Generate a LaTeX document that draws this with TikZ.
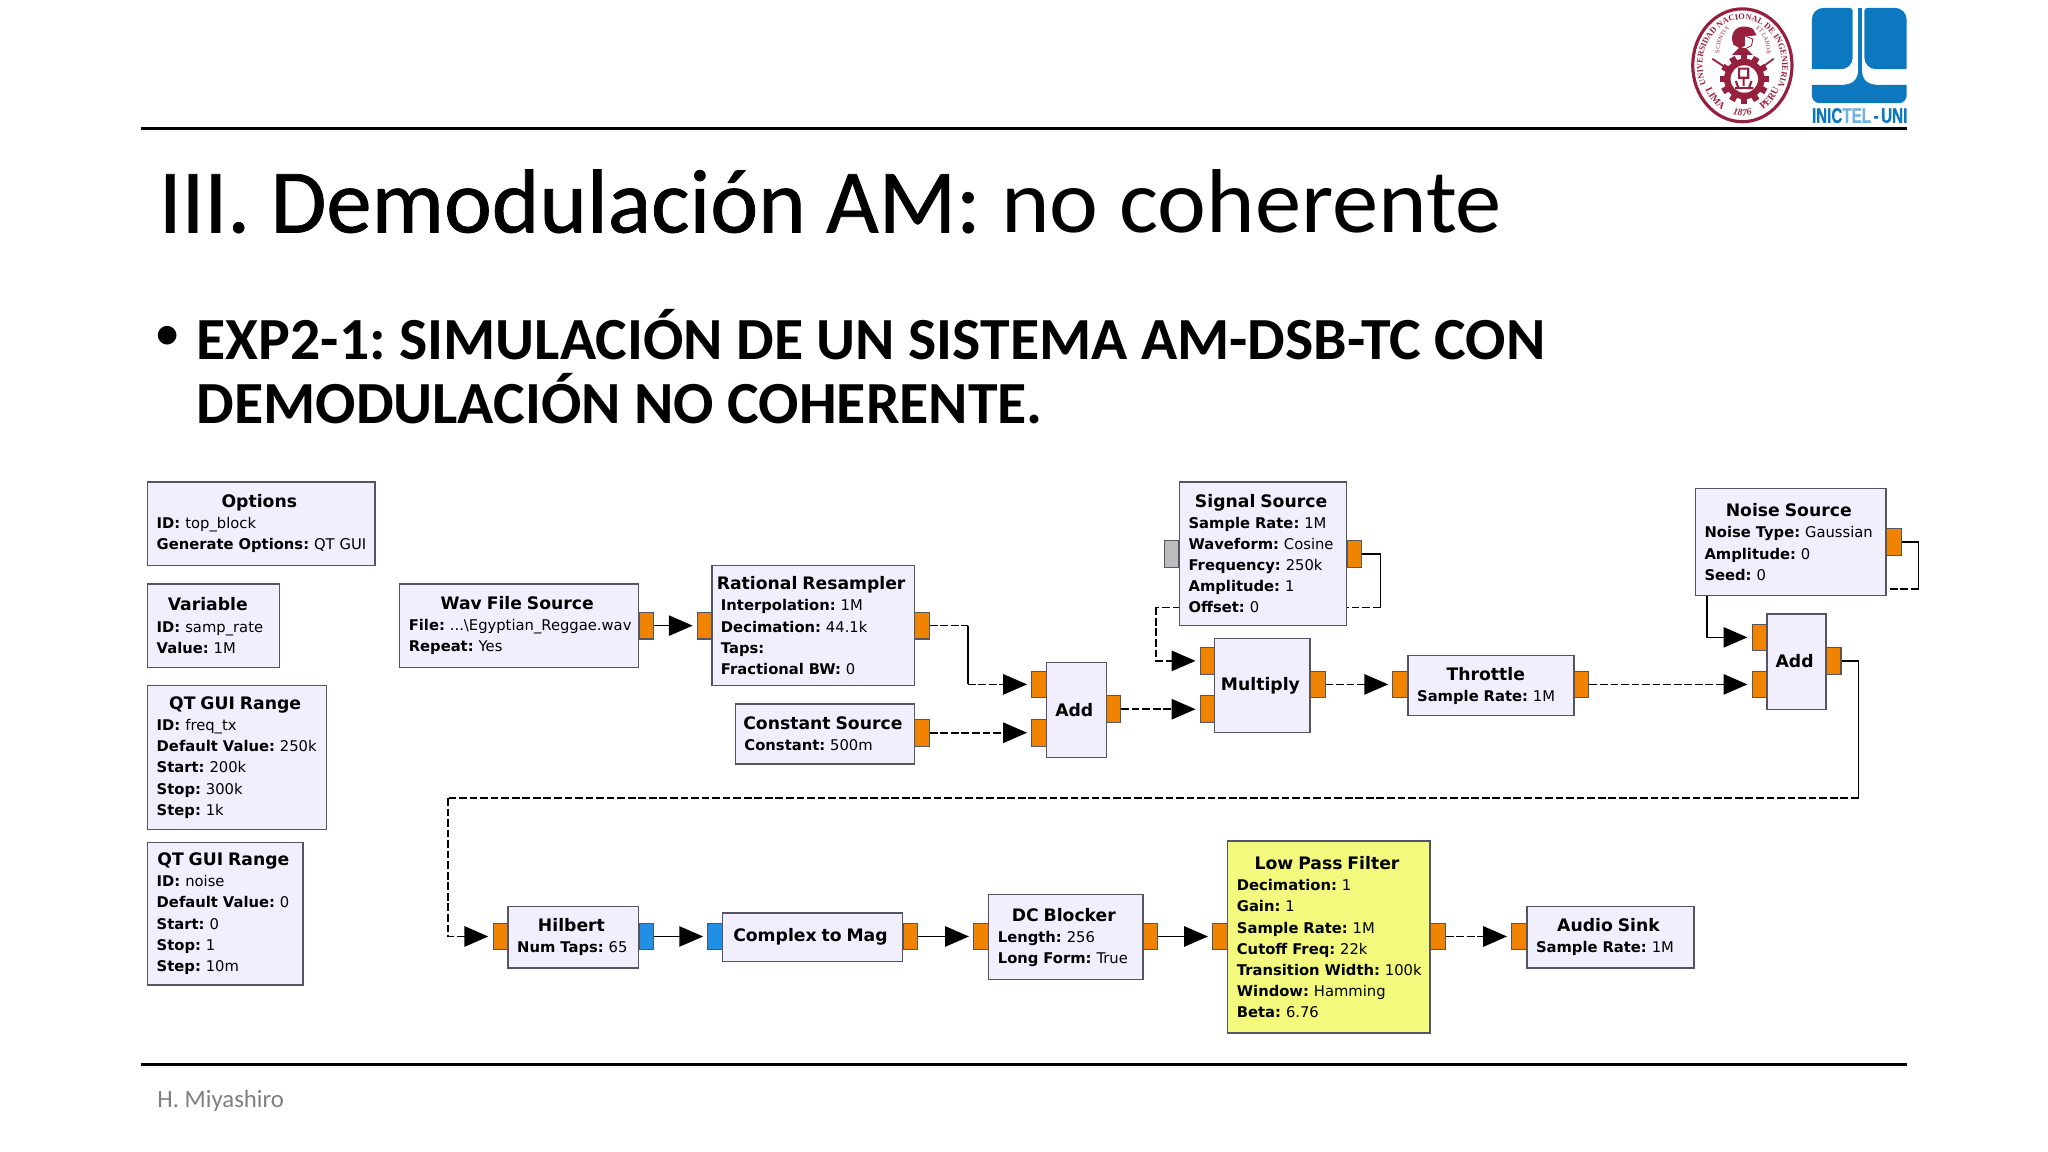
\documentclass[tikz,border=0pt]{standalone}
\usepackage{xcolor}
\usepackage{fontspec}
\usetikzlibrary{arrows.meta,backgrounds,calc,decorations.text}
\setmainfont{Carlito}
\newfontfamily\blockfont{DejaVu Sans}
\newfontfamily\headfont[FakeBold=0.8]{Carlito}
\newfontfamily\logofont[BoldFeatures={FakeBold=1}]{Liberation Sans}
\newfontfamily\sealfont{Liberation Serif}
\definecolor{blockfill}{HTML}{F1EEFD}
\definecolor{blockedge}{HTML}{55555F}
\definecolor{filterfill}{HTML}{F3F97C}
\definecolor{portorange}{HTML}{F08300}
\definecolor{portblue}{HTML}{2090E6}
\definecolor{portgrey}{HTML}{BCBCBC}
\definecolor{unired}{HTML}{96213F}
\definecolor{iniblue}{HTML}{0B78BF}
\definecolor{inilight}{HTML}{6FB3DE}
\definecolor{footgrey}{HTML}{7F7F7F}
\newcommand{\blockhead}[1]{\makebox[\hsize]{\hspace*{-1.1pt}\fontsize{4.9}{6}\selectfont\bfseries #1}\\}
\tikzset{
  blockbox/.style 2 args={draw=blockedge, fill=blockfill, line width=0.4pt, inner xsep=2.6pt, inner ysep=0pt,
    minimum width=#1*0.3716pt, minimum height=#2*0.3716pt, text width=(#1-14)*0.3716pt, align=left,
    font=\blockfont\fontsize{4.2}{6}\selectfont},
  portbox/.style={draw=blockedge, line width=0.3pt, fill=portorange, minimum width=4.1pt, minimum height=7.6pt, inner sep=0pt},
  plainwire/.style={line width=0.45pt},
  wire/.style={plainwire, -{Triangle[length=6.8pt,width=5.8pt]}, shorten >=1.2pt},
  dashwire/.style={wire, dash pattern=on 2.2pt off 0.8pt},
  dashline/.style={plainwire, dash pattern=on 2.2pt off 0.8pt},
  rulebar/.style={line width=0.95pt},
  titletext/.style={anchor=base west, inner sep=0pt, font=\fontsize{25.8}{30}\selectfont},
  bodytext/.style={anchor=west, inner sep=0pt, align=left, font=\fontsize{17}{18.2}\selectfont\bfseries},
}
\frenchspacing
\hyphenpenalty=10000
\begin{document}
\begin{tikzpicture}[x=0.013061cm, y=-0.013061cm]
  \useasboundingbox (0,0) rectangle (1568,882);

  % Slide frame
  \coordinate (topa) at (108,98.5);
  \coordinate (topb) at (1460,98.5);
  \coordinate (bota) at (108,815);
  \coordinate (botb) at (1460,815);
  \draw[rulebar] (topa) -- (topb);
  \draw[rulebar] (bota) -- (botb);
  \node[titletext] (title) at (121,178) {{\headfont III. Demodulación AM:} \scalebox{1.02}[1]{no coherente}};
  \node[anchor=base west, inner sep=0pt, font=\fontsize{15}{18}\selectfont] (bullet) at (118,268) {•};
  \node[bodytext] (body) at (150,281) {EXP2-1: SIMULACIÓN DE UN SISTEMA AM-DSB-TC CON\\DEMODULACIÓN NO COHERENTE.};
  \node[anchor=west, inner sep=0pt, text=footgrey, font=\fontsize{7.05}{8}\selectfont] (author) at (120,843) {H. Miyashiro};

  % Side blocks
  \node[blockbox={174}{64}] (options) at (200,401) {\blockhead{Options}\textbf{ID:} top\_block\\\textbf{Generate~Options:}~QT~GUI};
  \node[blockbox={101}{64}] (variable) at (163.5,479) {\blockhead{Variable\hspace*{2.2pt}}\textbf{ID:} samp\_rate\\\textbf{Value:} 1M};
  \node[blockbox={137}{110}] (freqrange) at (181.5,580) {\blockhead{QT GUI Range}\textbf{ID:} freq\_tx\\\textbf{Default~Value:}~250k\\\textbf{Start:} 200k\\\textbf{Stop:} 300k\\\textbf{Step:} 1k};
  \node[blockbox={119}{109}] (noiserange) at (172.5,699.5) {\blockhead{QT GUI Range}\textbf{ID:} noise\\\textbf{Default Value:} 0\\\textbf{Start:} 0\\\textbf{Stop:} 1\\\textbf{Step:} 10m};

  % Top row
  \node[blockbox={183}{64}] (wav) at (397.5,479) {\blockhead{Wav File Source}\textbf{File:}~...\textbackslash Egyptian\_Reggae.wav\\\textbf{Repeat:} Yes};
  \node[blockbox={155}{92}] (resampler) at (622.5,479) {\blockhead{Rational Resampler}\textbf{Interpolation:} 1M\\\textbf{Decimation:} 44.1k\\\textbf{Taps:}\\\textbf{Fractional BW:} 0};
  \node[blockbox={137}{46}] (constant) at (631.5,562) {\blockhead{Constant Source}\textbf{Constant:} 500m};
  \node[blockbox={46}{73}] (adda) at (824,543.5) {\blockhead{Add}};
  \node[blockbox={128}{110}] (signal) at (967,424) {\blockhead{Signal Source}\textbf{Sample Rate:} 1M\\\textbf{Waveform:} Cosine\\\textbf{Frequency:} 250k\\\textbf{Amplitude:} 1\\\textbf{Offset:} 0};
  \node[blockbox={73}{72}] (multiply) at (966.5,525) {\blockhead{Multiply}};
  \node[blockbox={127}{46}] (throttle) at (1141.5,525) {\blockhead{Throttle\hspace*{1.8pt}}\textbf{Sample Rate:} 1M};
  \node[blockbox={146}{82}] (noise) at (1371,415) {\blockhead{Noise Source}\textbf{Noise Type:}~Gaussian\\\textbf{Amplitude:} 0\\\textbf{Seed:} 0};
  \node[blockbox={45}{73}] (addb) at (1375.5,506.5) {\blockhead{Add}};

  % Bottom row
  \node[blockbox={100}{47}] (hilbert) at (439,717.5) {\blockhead{Hilbert}\textbf{Num~Taps:}~65};
  \node[blockbox={138}{37}] (complex) at (622,717.5) {\blockhead{Complex to Mag}};
  \node[blockbox={118}{65}] (blocker) at (816,717.5) {\blockhead{DC Blocker}\textbf{Length:} 256\\\textbf{Long Form:} True};
  \node[blockbox={155}{147}, fill=filterfill] (lowpass) at (1017.5,717.5) {\blockhead{Low Pass Filter}\textbf{Decimation:} 1\\\textbf{Gain:} 1\\\textbf{Sample Rate:} 1M\\\textbf{Cutoff Freq:} 22k\\\textbf{Transition~Width:}~100k\\\textbf{Window:} Hamming\\\textbf{Beta:} 6.76};
  \node[blockbox={128}{47}] (audio) at (1233,717.5) {\blockhead{Audio Sink}\textbf{Sample Rate:} 1M};

  % Ports
  \node[portbox] (wavout) at (495,479) {};
  \node[portbox] (resin) at (539.5,479) {};
  \node[portbox] (resout) at (706,479) {};
  \node[portbox] (constout) at (706,561) {};
  \node[portbox] (addain) at (795.5,524) {};
  \node[portbox] (addbin) at (795.5,561) {};
  \node[portbox] (addout) at (852.5,543) {};
  \node[portbox] (mulain) at (924.5,506) {};
  \node[portbox] (mulbin) at (924.5,543) {};
  \node[portbox] (mulout) at (1009,524) {};
  \node[portbox, fill=portgrey] (sigin) at (897,424) {};
  \node[portbox] (sigout) at (1037,424) {};
  \node[portbox] (thrin) at (1072,524) {};
  \node[portbox] (throut) at (1211,524) {};
  \node[portbox] (noiseout) at (1450,415) {};
  \node[portbox] (sumain) at (1347,488) {};
  \node[portbox] (sumbin) at (1347,524) {};
  \node[portbox] (sumout) at (1404,506) {};
  \node[portbox] (hilin) at (383,717) {};
  \node[portbox, fill=portblue] (hilout) at (495,717) {};
  \node[portbox, fill=portblue] (cmagin) at (547.5,717) {};
  \node[portbox] (cmagout) at (697,717) {};
  \node[portbox] (dcin) at (751,717) {};
  \node[portbox] (dcout) at (881,717) {};
  \node[portbox] (lpfin) at (934,717) {};
  \node[portbox] (lpfout) at (1101,717) {};
  \node[portbox] (sinkin) at (1163,717) {};

  % Connectors
  \coordinate (resturn) at (741,479);
  \coordinate (sigturn) at (1057,465);
  \coordinate (sigdrop) at (885,465);
  \coordinate (noiseturn) at (1469,451);
  \coordinate (noisedrop) at (1307,456);
  \coordinate (sumturn) at (1423,611);
  \coordinate (hilturn) at (343,611);
  \begin{scope}[on background layer]
    \draw[wire] (wavout.east) -- (resin.west);
    \draw[dashline] (resout.east) -- (resturn);
    \draw[plainwire] (resturn) -- (resturn |- addain);
    \draw[dashwire] (resturn |- addain) -- (addain.west);
    \draw[dashwire] (constout.east) -- (addbin.west);
    \draw[dashwire] (addout.east) -- (mulbin.west);
    \draw[plainwire] (sigout.east) -| (sigturn);
    \draw[dashline] (sigturn) -- (sigdrop);
    \draw[dashwire] (sigdrop) |- (mulain.west);
    \draw[dashwire] (mulout.east) -- (thrin.west);
    \draw[dashwire] (throut.east) -- (sumbin.west);
    \draw[plainwire] (noiseout.east) -| (noiseturn);
    \draw[dashline] (noiseturn) -- (noiseturn -| noisedrop);
    \draw[wire] (noisedrop) |- (sumain.west);
    \draw[plainwire] (sumout.east) -| (sumturn);
    \draw[dashline] (sumturn) -- (hilturn);
    \draw[dashwire] (hilturn) |- (hilin.west);
    \draw[wire] (hilout.east) -- (cmagin.west);
    \draw[wire] (cmagout.east) -- (dcin.west);
    \draw[wire] (dcout.east) -- (lpfin.west);
    \draw[dashwire] (lpfout.east) -- (sinkin.west);
  \end{scope}

  % Seal
  \coordinate (sealc) at (1334,50);
  \coordinate (gearc) at (1335.5,60.5);
  \coordinate (headc) at (1334.5,40);
  \draw[unired, line width=0.9pt] (sealc) ellipse [x radius=38, y radius=43.2];
  \foreach \a in {0,30,...,150}
    \fill[unired, rotate around={\a:(gearc)}] ($(gearc)+(-2.4,-19)$) rectangle ($(gearc)+(2.4,19)$);
  \fill[unired] (gearc) circle [radius=15.5];
  \fill[white] (gearc) circle [radius=10.5];
  \draw[unired, line width=0.6pt] (1331.5,52.5) rectangle (1338.5,59.5) (1335,59.5) -- (1335,66) (1328.5,67.5) -- (1342.5,67.5) (1331,67.5) -- (1329,62) (1339,67.5) -- (1341,62);
  \draw[unired, line width=0.5pt] (1311,45) -- (1323,53) (1358,45) -- (1347,53);
  % Helmet and bust
  \fill[unired] (1326,30) .. controls (1326,21) and (1334,18) .. (1342,22) -- (1345,27) -- (1336,28) -- (1336,35) -- (1332,37) -- (1327,34) -- cycle;
  \fill[unired] (1332,36) -- (1337,37) -- (1342,42) -- (1326,42) -- cycle;
  \draw[unired, line width=0.25pt] (1337,28) -- (1342,30) -- (1341,35) -- (1337,37);
  \path[decorate, decoration={text along path, text align=fit to path,
    text={|\sealfont\bfseries\fontsize{2.4}{3}\selectfont\color{unired}|UNIVERSIDAD NACIONAL DE INGENIERIA}}]
    (sealc) ++(155:30.5 and 35) arc [start angle=155, end angle=385, x radius=30.5, y radius=35];
  \path[decorate, decoration={text along path, text align=center,
    text={|\sealfont\bfseries\fontsize{2.8}{3}\selectfont\color{unired}|LIMA}}]
    (sealc) ++(160:32 and 39) arc [start angle=160, end angle=110, x radius=32, y radius=39];
  \path[decorate, decoration={text along path, text align=center,
    text={|\sealfont\bfseries\itshape\fontsize{2.8}{3}\selectfont\color{unired}|1876}}]
    (sealc) ++(120:32 and 39) arc [start angle=120, end angle=60, x radius=32, y radius=39];
  \path[decorate, decoration={text along path, text align=center,
    text={|\sealfont\bfseries\fontsize{2.8}{3}\selectfont\color{unired}|PERU}}]
    (sealc) ++(70:32 and 39) arc [start angle=70, end angle=20, x radius=32, y radius=39];
  \path[decorate, decoration={text along path, text align=center,
    text={|\sealfont\fontsize{1.7}{2}\selectfont\color{unired}|SCIENTIA}}]
    (headc) ++(165:18 and 22) arc [start angle=165, end angle=250, x radius=18, y radius=22];
  \path[decorate, decoration={text along path, text align=center,
    text={|\sealfont\fontsize{1.7}{2}\selectfont\color{unired}|ET LABOR}}]
    (headc) ++(290:18 and 22) arc [start angle=290, end angle=375, x radius=18, y radius=22];

  % INICTEL mark
  \fill[iniblue] (1387.2,15) arc [start angle=180, end angle=270, radius=9] -- (1416,6) arc [start angle=-90, end angle=0, radius=2.5] -- (1418.5,44) arc [start angle=0, end angle=90, radius=9] -- (1387.2,53) -- cycle;
  \fill[iniblue] (1459.8,15) arc [start angle=0, end angle=-90, radius=9] -- (1429.9,6) arc [start angle=270, end angle=180, radius=2.5] -- (1427.4,44) arc [start angle=180, end angle=90, radius=9] -- (1459.8,53) -- cycle;
  \fill[iniblue] (1422.8,6) rectangle (1425.4,53);
  \fill[iniblue] (1387.2,65) -- (1409,65) .. controls (1418,65) and (1422.8,62) .. (1422.8,52) -- (1425.4,52) .. controls (1425.4,62) and (1430,65) .. (1439,65) -- (1459.8,65) -- (1459.8,73) arc [start angle=0, end angle=90, radius=6] -- (1393.2,79) arc [start angle=90, end angle=180, radius=6] -- cycle;
  \node[anchor=center, inner sep=0pt, font=\logofont\fontsize{6}{7}\selectfont\bfseries] (inictel) at (1423.8,88.5) {\scalebox{0.72}[1]{\textcolor{iniblue}{INIC}\textcolor{inilight}{TEL}\textcolor{iniblue}{\,-\,UNI}}};
\end{tikzpicture}
\end{document}
